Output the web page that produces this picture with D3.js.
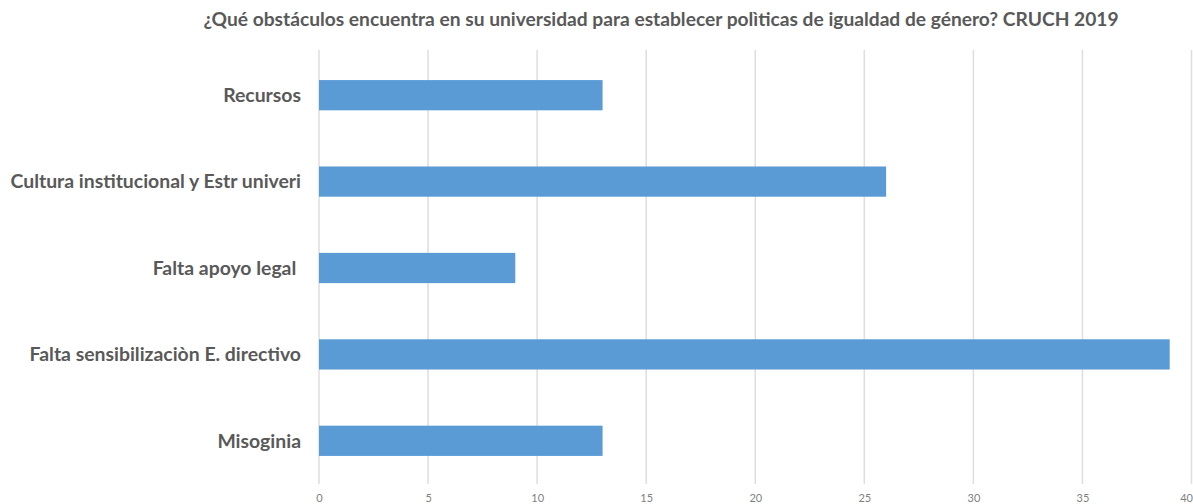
<!DOCTYPE html>
<html>
<head>
<meta charset="utf-8">
<script src="https://cdn.jsdelivr.net/npm/d3@7"></script>
<style>
  html, body { margin: 0; padding: 0; background: #ffffff; }
  svg { display: block; }
</style>
</head>
<body>
<svg id="chart" width="1193" height="504"></svg>
<script>
// Obstacles reported by universities (CRUCH 2019)
const chartTitle = "¿Qué obstáculos encuentra en su universidad para establecer polìticas de igualdad de género? CRUCH 2019";
const categories = [
  "Recursos",
  "Cultura institucional y Estr univeri",
  "Falta apoyo legal ",
  "Falta sensibilizaciòn E. directivo",
  "Misoginia"
];
const counts = [13, 26, 9, 39, 13];
const tickValues = [0, 5, 10, 15, 20, 25, 30, 35, 40];

const margin = { top: 52, left: 319 };
const plotRight = 1191.5, plotBottom = 484;

const svg = d3.select("#chart");
const font = "Lato, 'Open Sans', sans-serif";

const x = d3.scaleLinear().domain([0, 40]).range([margin.left, plotRight]);
const y = d3.scaleBand().domain(categories).range([margin.top, plotBottom]).paddingInner(0.65).paddingOuter(0.325);

// vertical gridlines
svg.append("g")
  .selectAll("line")
  .data(tickValues)
  .join("line")
  .attr("x1", d => x(d)).attr("x2", d => x(d))
  .attr("y1", margin.top - 2).attr("y2", plotBottom)
  .attr("stroke", "#dedede")
  .attr("stroke-width", 1.5);

// bars
svg.append("g")
  .selectAll("rect")
  .data(categories)
  .join("rect")
  .attr("x", x(0))
  .attr("y", d => y(d))
  .attr("width", (d, i) => x(counts[i]) - x(0))
  .attr("height", y.bandwidth())
  .attr("fill", "#5b9bd5");

// category labels
svg.append("g")
  .selectAll("text")
  .data(categories)
  .join("text")
  .attr("x", 301)
  .attr("y", d => y(d) + y.bandwidth() / 2)
  .attr("dy", "0.35em")
  .attr("text-anchor", "end")
  .style("white-space", "pre")
  .attr("font-family", font)
  .attr("font-weight", "bold")
  .attr("font-size", 19.4)
  .attr("fill", "#595959")
  .text(d => d);

// value axis labels (the last one is kept inside the right edge)
const xAxis = d3.axisBottom(x).tickValues(tickValues).tickSize(0).tickPadding(0);
const gx = svg.append("g").attr("transform", "translate(0,494)").call(xAxis);
gx.select(".domain").remove();
gx.selectAll("text")
  .attr("font-family", font)
  .attr("font-size", 11)
  .attr("fill", "#7f7f7f")
  .attr("text-anchor", d => d === 40 ? "end" : "middle")
  .attr("dx", d => d === 40 ? 1 : 0);

// title
svg.append("text")
  .attr("x", 661)
  .attr("y", 26)
  .attr("text-anchor", "middle")
  .attr("font-family", font)
  .attr("font-weight", "bold")
  .attr("font-size", 19.2)
  .attr("fill", "#595959")
  .text(chartTitle);
</script>
</body>
</html>
